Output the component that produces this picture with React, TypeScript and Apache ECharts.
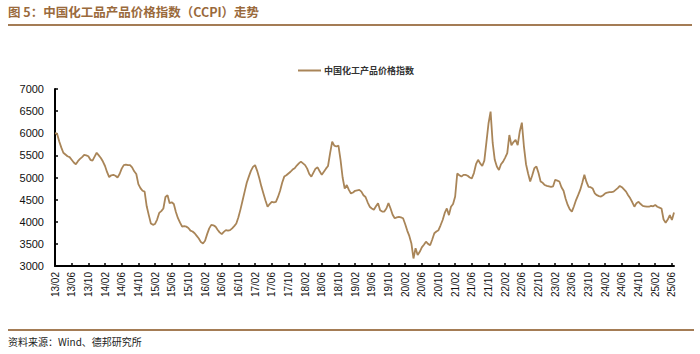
import React, { useEffect, useRef } from "react";
import * as echarts from "echarts";

// Semi-monthly CCPI readings, Feb 2013 – Jun 2025 (two points per month)
const v2013 = [6000, 5990, 5820, 5680, 5560, 5520, 5480, 5460, 5400, 5340, 5300, 5370, 5420, 5460, 5510, 5500, 5480, 5400, 5380, 5470, 5560, 5500];
const v2014 = [5440, 5360, 5260, 5120, 5010, 5050, 5060, 5040, 5000, 5080, 5200, 5280, 5290, 5280, 5280, 5230, 5140, 5080, 4850, 4760, 4700, 4680, 4350, 4150];
const v2015 = [3960, 3930, 3950, 4050, 4200, 4240, 4300, 4560, 4600, 4420, 4440, 4400, 4220, 4080, 3980, 3890, 3900, 3890, 3860, 3800, 3780, 3740, 3680, 3620];
const v2016 = [3540, 3510, 3570, 3720, 3850, 3930, 3920, 3890, 3820, 3760, 3720, 3770, 3810, 3800, 3810, 3850, 3900, 3960, 4100, 4280, 4480, 4680, 4880, 5020];
const v2017 = [5150, 5240, 5280, 5150, 4990, 4800, 4640, 4480, 4340, 4400, 4450, 4440, 4450, 4560, 4700, 4880, 5020, 5050, 5090, 5130, 5180, 5210, 5270, 5320];
const v2018 = [5360, 5320, 5280, 5200, 5080, 5020, 5110, 5200, 5230, 5140, 5060, 5130, 5200, 5260, 5550, 5810, 5720, 5700, 5720, 5400, 5000, 4750, 4830, 4720];
const v2019 = [4640, 4660, 4700, 4710, 4720, 4680, 4600, 4560, 4440, 4340, 4300, 4270, 4350, 4420, 4260, 4230, 4230, 4300, 4420, 4300, 4160, 4080, 4100, 4110];
const v2020 = [4100, 4080, 3950, 3800, 3680, 3510, 3170, 3400, 3250, 3320, 3420, 3480, 3550, 3500, 3470, 3600, 3740, 3780, 3810, 3920, 4040, 4200, 4300, 4150];
const v2021 = [4340, 4400, 4570, 5090, 5050, 5020, 5060, 5060, 5040, 5000, 4980, 5100, 5300, 5400, 5320, 5260, 5380, 5800, 6220, 6490, 5780, 5400, 5250, 5170];
const v2022 = [5300, 5360, 5450, 5550, 5960, 5730, 5800, 5850, 5730, 6040, 6240, 5700, 5300, 5090, 4910, 5050, 5210, 5250, 5100, 4910, 4880, 4830, 4810, 4800];
const v2023 = [4790, 4800, 4950, 4930, 4910, 4780, 4700, 4520, 4380, 4280, 4230, 4350, 4490, 4600, 4720, 4880, 5060, 4900, 4790, 4780, 4750, 4640, 4600, 4580];
const v2024 = [4570, 4600, 4640, 4660, 4670, 4670, 4680, 4720, 4760, 4810, 4780, 4730, 4680, 4600, 4530, 4440, 4340, 4420, 4450, 4400, 4360, 4350, 4340, 4340];
const v2025 = [4360, 4350, 4380, 4340, 4320, 4300, 4050, 3980, 4050, 4150, 4040, 4210];

const values = [...v2013, ...v2014, ...v2015, ...v2016, ...v2017, ...v2018, ...v2019, ...v2020, ...v2021, ...v2022, ...v2023, ...v2024, ...v2025];

const halves = ["a", "b"];
const categories: string[] = [];
for (let y = 2013; y <= 2025; y++) {
  const m0 = y === 2013 ? 2 : 1;
  const m1 = y === 2025 ? 6 : 12;
  for (let m = m0; m <= m1; m++) {
    for (const h of halves) {
      categories.push(`${String(y).slice(2)}/${String(m).padStart(2, "0")}${h}`);
    }
  }
}

const seriesName = "中国化工产品价格指数";
const titleText = "图 5：中国化工品产品价格指数（CCPI）走势";
const sourceText = "资料来源：Wind、德邦研究所";

const lineColor = "#A98558";
const brown = "#A47C55";
const cjk = '"Noto Sans CJK SC", "Liberation Sans", sans-serif';
const latin = '"Liberation Sans", Arial, sans-serif';

export default function App() {
  const ref = useRef<HTMLDivElement>(null);
  useEffect(() => {
    if (!ref.current) return;
    const chart = echarts.init(ref.current, undefined, { renderer: "svg" });
    chart.setOption({
      animation: false,
      backgroundColor: "#fff",
      grid: { left: 55, right: 26, top: 89, bottom: 88, containLabel: false },
      legend: {
        left: 293,
        top: 61,
        itemWidth: 23,
        itemHeight: 2,
        itemGap: 10,
        icon: "rect",
        data: [seriesName],
        textStyle: { fontSize: 9, color: "#333", fontFamily: cjk, fontWeight: "bold", padding: [0, 0, 0, -2] },
      },
      xAxis: {
        type: "category",
        data: categories,
        boundaryGap: false,
        axisLine: { lineStyle: { color: "#000", width: 2 } },
        axisTick: { inside: true, length: 3, interval: 7, lineStyle: { color: "#000", width: 1.5 } },
        axisLabel: {
          interval: 7,
          rotate: 90,
          margin: 6,
          fontSize: 10,
          color: "#111",
          fontFamily: latin,
          formatter: (v: string) => v.slice(0, 5),
        },
        splitLine: { show: false },
      },
      yAxis: {
        type: "value",
        min: 3000,
        max: 7000,
        interval: 500,
        axisLine: { show: true, lineStyle: { color: "#000", width: 2 } },
        axisTick: { show: true, inside: true, length: 3, lineStyle: { color: "#000", width: 1.5 } },
        axisLabel: { fontSize: 11, color: "#111", margin: 11, fontFamily: latin, formatter: (v: number) => String(v) },
        splitLine: { show: false },
      },
      series: [
        {
          name: seriesName,
          type: "line",
          data: values,
          showSymbol: false,
          symbol: "none",
          lineStyle: { color: lineColor, width: 1.8 },
          itemStyle: { color: lineColor },
        },
      ],
      graphic: [
        {
          type: "text",
          left: 8,
          top: 5,
          style: { text: titleText, fill: "#9A6A3C", font: `bold 12.5px ${cjk}` },
        },
        {
          type: "line",
          shape: { x1: 8, y1: 25, x2: 692, y2: 25 },
          style: { stroke: brown, lineWidth: 2 },
        },
        {
          type: "line",
          shape: { x1: 8, y1: 330, x2: 694, y2: 330 },
          style: { stroke: brown, lineWidth: 2 },
        },
        {
          type: "text",
          left: 8,
          top: 336,
          style: { text: sourceText, fill: "#222", font: `10px ${cjk}` },
        },
      ],
    });
    return () => chart.dispose();
  }, []);
  return <div ref={ref} style={{ width: 700, height: 354, position: "absolute", left: 0, top: 0 }} />;
}
